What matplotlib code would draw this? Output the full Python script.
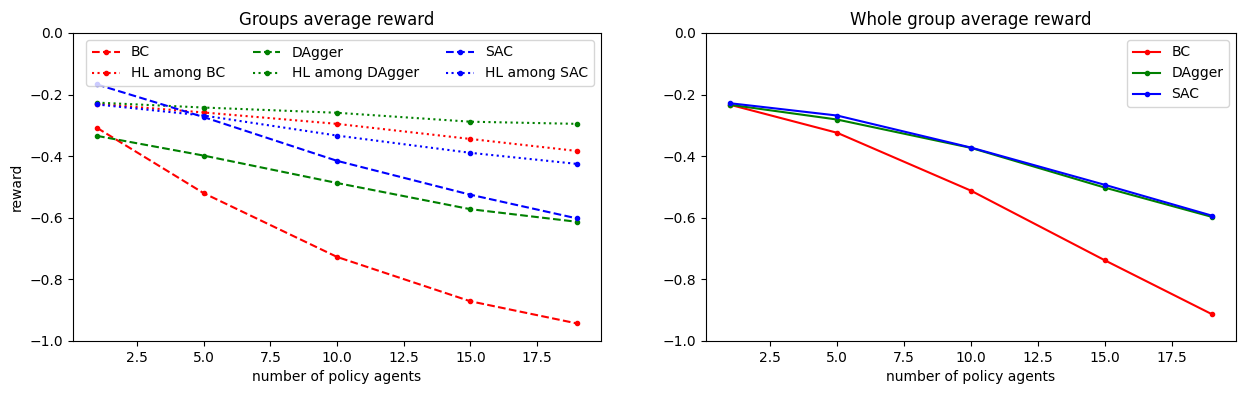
import matplotlib
matplotlib.use("Agg")
import matplotlib.pyplot as plt

agents = [1, 5, 10, 15, 19]

# Left: groups average reward
bc_group = [-0.308, -0.520, -0.727, -0.871, -0.943]
hl_bc = [-0.230, -0.258, -0.295, -0.344, -0.383]
dagger_group = [-0.334, -0.398, -0.487, -0.572, -0.613]
hl_dagger = [-0.226, -0.242, -0.259, -0.288, -0.295]
sac_group = [-0.167, -0.273, -0.415, -0.525, -0.602]
hl_sac = [-0.232, -0.268, -0.333, -0.389, -0.425]

# Right: whole group average reward
bc_whole = [-0.233, -0.324, -0.512, -0.738, -0.913]
dagger_whole = [-0.233, -0.281, -0.373, -0.502, -0.597]
sac_whole = [-0.228, -0.268, -0.372, -0.493, -0.593]

fig = plt.figure(figsize=(12.45, 3.93), dpi=100)
ax1 = fig.add_axes([73/1245, 52/393, 528/1245, 308/393])
ax2 = fig.add_axes([706/1245, 52/393, 530/1245, 308/393])

ax1.plot(agents, bc_group, 'r.--', label='BC')
ax1.plot(agents, hl_bc, 'r.:', label='HL among BC')
ax1.plot(agents, dagger_group, 'g.--', label='DAgger')
ax1.plot(agents, hl_dagger, 'g.:', label='HL among DAgger')
ax1.plot(agents, sac_group, 'b.--', label='SAC')
ax1.plot(agents, hl_sac, 'b.:', label='HL among SAC')
ax1.set_ylim(-1, 0)
ax1.set_title('Groups average reward')
ax1.set_xlabel('number of policy agents')
ax1.set_ylabel('reward')
ax1.legend(ncol=3, loc='upper right')

ax2.plot(agents, bc_whole, 'r.-', label='BC')
ax2.plot(agents, dagger_whole, 'g.-', label='DAgger')
ax2.plot(agents, sac_whole, 'b.-', label='SAC')
ax2.set_ylim(-1, 0)
ax2.set_title('Whole group average reward')
ax2.set_xlabel('number of policy agents')
ax2.legend(loc='upper right')

fig.savefig('out.png', dpi=100)
